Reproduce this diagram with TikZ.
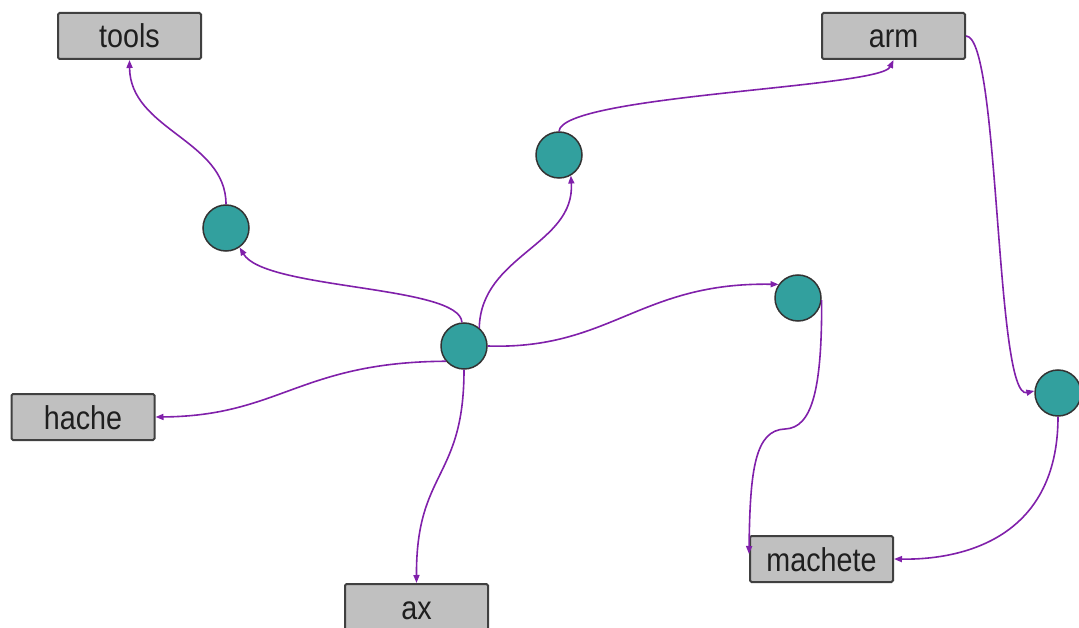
\documentclass[tikz,border=0pt]{standalone}
\usepackage{fontspec}
\newfontfamily\lblfont[FakeStretch=0.87]{Liberation Sans}
\usetikzlibrary{arrows.meta,calc}
\definecolor{boxfill}{RGB}{192,192,192}
\definecolor{boxline}{RGB}{64,64,64}
\definecolor{hubfill}{RGB}{50,160,158}
\definecolor{edgec}{RGB}{128,32,170}
\begin{document}
\begin{tikzpicture}[x=1pt,y=-1pt,
 lbl/.style={draw=boxline, line width=2pt, fill=boxfill, rounded corners=1.5pt, minimum width=143pt, minimum height=46pt, inner sep=0pt, text height=24pt, text depth=0pt, font=\lblfont\fontsize{33}{33}\selectfont, text=black!88},
 hub/.style={circle, draw=black!80, line width=1.5pt, fill=hubfill, minimum size=46pt, inner sep=0pt},
 link/.style={draw=edgec, line width=1.6pt, -{Triangle[length=8pt,width=6pt]}}]
\useasboundingbox (0,0) rectangle (1079,628);
% boxes
\node[lbl] (tools) at (129.5,36) {tools};
\node[lbl] (arm) at (893.5,36) {arm};
\node[lbl] (hache) at (83,417) {hache};
\node[lbl] (ax) at (416.5,607) {ax};
\node[lbl] (machete) at (821.5,559) {machete};
% hubs
\node[hub] (cc) at (464,346) {};
\node[hub] (ctl) at (226,228) {};
\node[hub] (ctop) at (559,155) {};
\node[hub] (cright) at (798,298) {};
\node[hub] (cfar) at (1058,393) {};
% links
\draw[link] (ctl.north) .. controls (226,140) and (130,130) .. (tools.south);
\draw[link] (cc.95) .. controls (460,285) and (265,290) .. (ctl.-55);
\draw[link] (cc.50) .. controls (481,255) and (575,245) .. (ctop.-60);
\draw[link] (ctop.north) .. controls (562,95) and (880,88) .. (arm.south);
\draw[link] (cc.east) .. controls (610,350) and (640,282) .. (cright.145);
\draw[link] (cc.220) .. controls (300,362) and (280,416) .. (hache.east);
\draw[link] (cc.south) .. controls (464,480) and (416,470) .. (ax.north);
\coordinate (machin) at ($(machete.north west)+(0,19)$);
\coordinate (bend8) at (785,429);
\draw[link] (cright.-5) .. controls (822,390) and (812,428) .. (bend8)
  .. controls (755,430) and (750,470) .. (machin);
\draw[link] (arm.east) .. controls (1000,36) and (995,400) .. (cfar.175);
\draw[link] (cfar.south) .. controls (1058,540) and (960,560) .. (machete.east);
\end{tikzpicture}
\end{document}
